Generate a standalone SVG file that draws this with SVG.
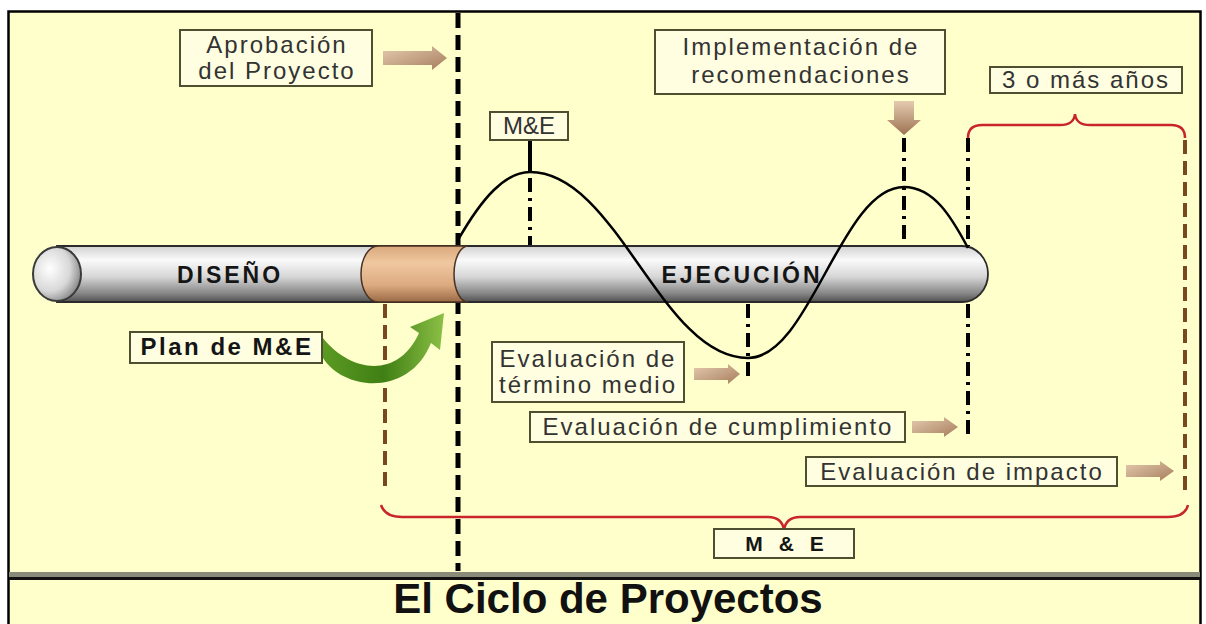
<svg xmlns="http://www.w3.org/2000/svg" width="1206" height="624" viewBox="0 0 1206 624">
<defs>
<linearGradient id="cyl" x1="0" y1="0" x2="0" y2="1">
<stop offset="0" stop-color="#d0d0d0"/>
<stop offset="0.25" stop-color="#fafafa"/>
<stop offset="0.55" stop-color="#d6d6d6"/>
<stop offset="0.85" stop-color="#858585"/>
<stop offset="1" stop-color="#505050"/>
</linearGradient>
<linearGradient id="copper" x1="0" y1="0" x2="0" y2="1">
<stop offset="0" stop-color="#d9a77c"/>
<stop offset="0.3" stop-color="#f0c8a0"/>
<stop offset="0.7" stop-color="#dcaa80"/>
<stop offset="1" stop-color="#9a6a45"/>
</linearGradient>
<radialGradient id="cap" cx="0.35" cy="0.4" r="0.7">
<stop offset="0" stop-color="#ffffff"/>
<stop offset="0.6" stop-color="#d8d8d8"/>
<stop offset="1" stop-color="#808080"/>
</radialGradient>
<linearGradient id="tan" x1="0" y1="0" x2="1" y2="1">
<stop offset="0" stop-color="#e6cbb0"/>
<stop offset="1" stop-color="#a57d5c"/>
</linearGradient>
<linearGradient id="tanv" x1="0" y1="0" x2="0" y2="1">
<stop offset="0" stop-color="#e6cbb0"/>
<stop offset="1" stop-color="#9c7252"/>
</linearGradient>
<linearGradient id="green" x1="0" y1="0" x2="1" y2="0">
<stop offset="0" stop-color="#5b9a22"/>
<stop offset="0.5" stop-color="#3f7f14"/>
<stop offset="1" stop-color="#8cc046"/>
</linearGradient>
</defs>
<style>
.box{fill:#fffee0;stroke:#4e4e30;stroke-width:2}
.lbl{font-family:"Liberation Sans",Arial,sans-serif;font-size:24px;fill:#333;letter-spacing:2px;text-anchor:middle}
.bold{font-weight:bold;fill:#151515}
.dash{stroke:#000;stroke-width:5;fill:none;stroke-dasharray:15 7}
.dashdot{stroke:#000;stroke-width:4;fill:none;stroke-dasharray:14 6 3 6}
.brown{stroke:#7a4820;stroke-width:4;fill:none;stroke-dasharray:14 7}
.brace{stroke:#c8262a;stroke-width:2.5;fill:none}
.tan{fill:url(#tan)}
</style>

<rect x="0" y="0" width="1206" height="624" fill="#ffffff"/>
<rect x="8.5" y="11.5" width="1192" height="640" fill="#ffffcc" stroke="#000" stroke-width="2.5"/>
<rect x="9" y="572" width="1191" height="5" fill="#8a8a7a"/>
<rect x="9" y="577" width="1191" height="3" fill="#111"/>

<g id="connectors">
<path class="dash" d="M458 13 V571"/>
<path class="brown" d="M385 304 V490"/>
<path class="brown" d="M1185 140 V490"/>
<path d="M530 140 V172" stroke="#000" stroke-width="4"/>
<path class="dashdot" d="M530 178 V246"/>
<path class="dashdot" d="M904 138 V246" stroke-width="3.5"/>
<path class="dashdot" d="M968 138 V246"/>
<path class="dashdot" d="M968 304 V437"/>
<path class="dashdot" d="M748 304 V382"/>
<path class="brace" d="M968 138 Q968 125 982 125 H1060 Q1074 125 1075 114 Q1076 125 1090 125 H1171 Q1185 125 1185 138"/>
<path class="brace" d="M381 505 Q385 517 402 517 H768 Q782 517 784 530 Q786 517 800 517 H1168 Q1185 517 1188 505"/>
</g>

<g id="cylinder">
<path d="M57 246 H962 A26 28 0 0 1 962 302 H57 Z" fill="url(#cyl)" stroke="#2a2a2a" stroke-width="1.8"/>
<path d="M378 246 H468 A14 28 0 0 0 468 302 H378 A17 28 0 0 1 378 246 Z" fill="url(#copper)" stroke="#4a3220" stroke-width="1.5"/>
<ellipse cx="57" cy="274" rx="24" ry="27" fill="url(#cap)" stroke="#3a3a3a" stroke-width="2"/>
<text class="lbl bold" x="230" y="283" style="font-size:23px;letter-spacing:3px">DISEÑO</text>
<text class="lbl bold" x="742" y="283" style="font-size:23px;letter-spacing:3px">EJECUCIÓN</text>
</g>

<g id="wave">
<path d="M458 240 C482 198 505 172 530 172 C617 172 661 358 748 358 C810 358 841 187 904 187 C934 187 952 218 968 248" fill="none" stroke="#000" stroke-width="2.5"/>
</g>

<g id="aprobacion">
<rect class="box" x="180" y="30" width="192" height="56"/>
<text class="lbl" x="277" y="53">Aprobación</text>
<text class="lbl" x="277" y="79">del Proyecto</text>
<path class="tan" d="M383 51 H432 V46 L447 58 L432 70 V65 H383 Z"/>
</g>

<g id="me-top">
<rect class="box" x="490" y="112" width="78" height="28"/>
<text class="lbl" x="529" y="134" style="letter-spacing:0">M&amp;E</text>
</g>

<g id="implementacion">
<rect class="box" x="655" y="30" width="290" height="64"/>
<text class="lbl" x="801" y="55">Implementación de</text>
<text class="lbl" x="801" y="83">recomendaciones</text>
<path fill="url(#tanv)" d="M894 101 H914 V120 H921 L904 135 L887 120 H894 Z"/>
</g>

<g id="anios">
<rect class="box" x="990" y="67" width="192" height="26"/>
<text class="lbl" x="1086" y="88">3 o más años</text>
</g>

<g id="plan">
<rect class="box" x="130" y="332" width="192" height="31"/>
<text class="lbl bold" x="227" y="355" style="letter-spacing:2.5px">Plan de M&amp;E</text>
<path fill="url(#green)" d="M323 338 C350 372 398 380 419 333 L410 327 L444 313 L440 350 L431 343 C410 396 345 392 323 358 Z"/>
</g>

<g id="termino">
<rect class="box" x="492" y="342" width="192" height="60"/>
<text class="lbl" x="588" y="367">Evaluación de</text>
<text class="lbl" x="588" y="393">término medio</text>
<path class="tan" d="M694 368 H728 V364 L740 374 L728 384 V380 H694 Z"/>
</g>

<g id="cumplimiento">
<rect class="box" x="530" y="412" width="375" height="30"/>
<text class="lbl" x="718" y="435">Evaluación de cumplimiento</text>
<path class="tan" d="M912 421 H944 V417 L958 427 L944 437 V433 H912 Z"/>
</g>

<g id="impacto">
<rect class="box" x="806" y="457" width="311" height="29"/>
<text class="lbl" x="962" y="480">Evaluación de impacto</text>
<path class="tan" d="M1126 465 H1160 V461 L1174 471 L1160 481 V477 H1126 Z"/>
</g>

<g id="me-bottom">
<rect class="box" x="714" y="529" width="140" height="29"/>
<text class="lbl bold" x="787" y="551" style="font-size:21px;letter-spacing:5px">M &amp; E</text>
</g>

<g id="title">
<text x="608" y="613" text-anchor="middle" style="font-family:'Liberation Sans',Arial,sans-serif;font-size:42px;font-weight:bold;fill:#111">El Ciclo de Proyectos</text>
</g>
</svg>
